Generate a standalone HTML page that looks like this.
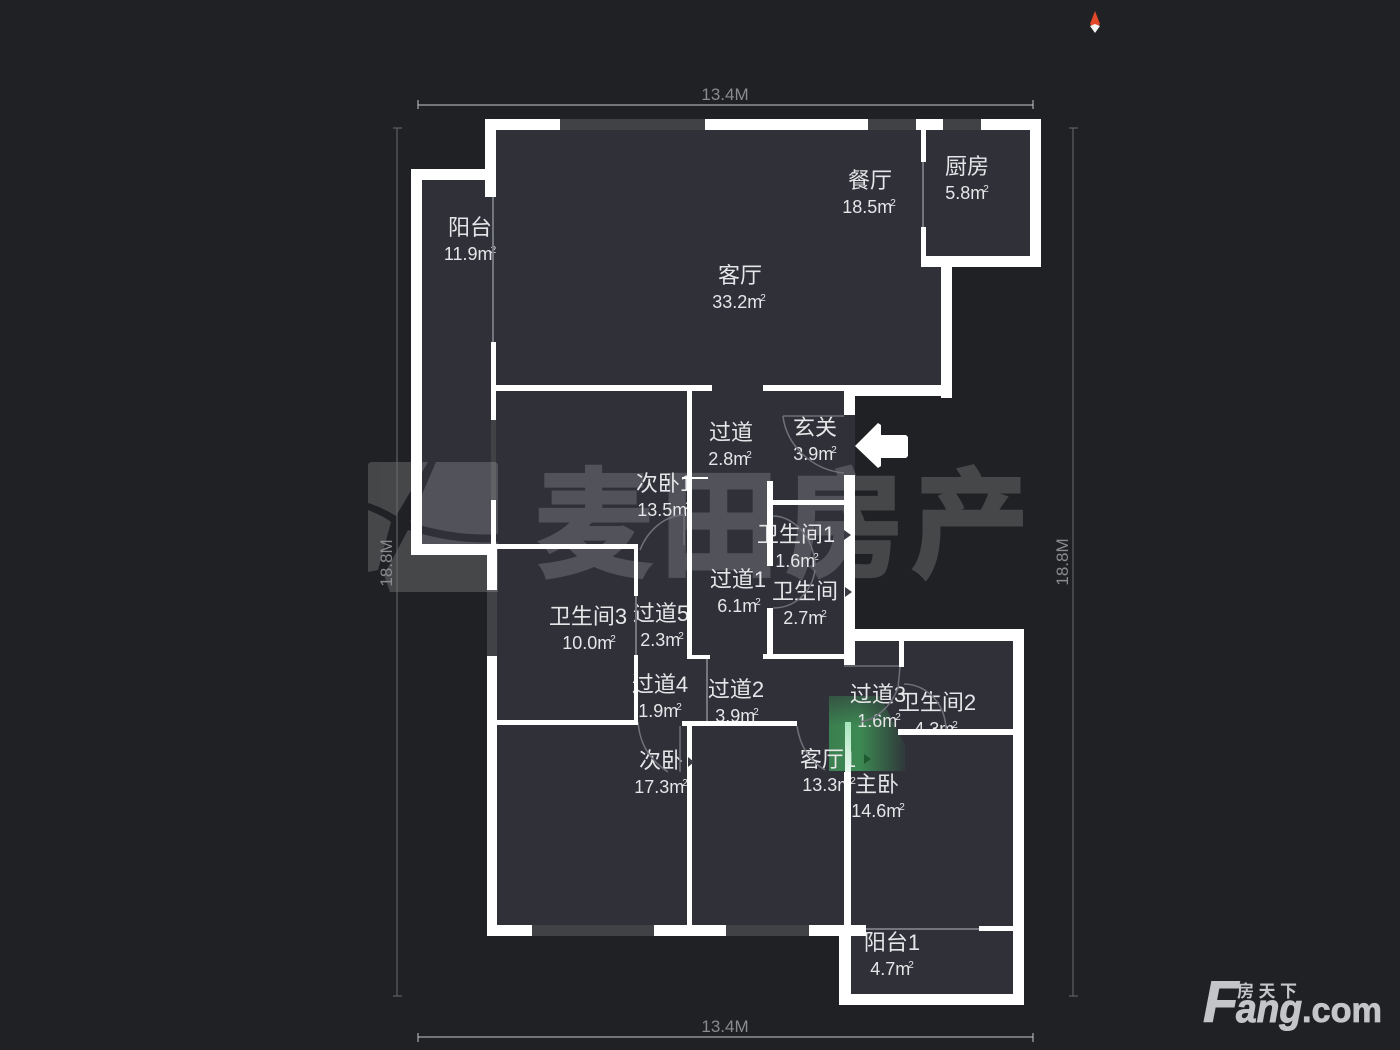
<!DOCTYPE html>
<html lang="zh-CN">
<head>
<meta charset="utf-8">
<title>户型图</title>
<style>
html,body{margin:0;padding:0;background:#1f2124;width:1400px;height:1050px;overflow:hidden}
svg{display:block}
text{font-family:"Liberation Sans","Noto Sans CJK SC",sans-serif}
.n{font-size:22px;fill:#e6e6e8;text-anchor:middle}
.a{font-size:18px;fill:#e6e6e8;text-anchor:middle}
.s{font-size:10px}
.d{font-size:17px;fill:#8a8b8e;text-anchor:middle}
.w{fill:#fff}
.win{fill:#414246}
.door{fill:none;stroke:#6f7178;stroke-width:1.5}
.dl{fill:none;stroke:#74767d;stroke-width:2}
</style>
</head>
<body>
<svg width="1400" height="1050" viewBox="0 0 1400 1050" xmlns="http://www.w3.org/2000/svg">
<defs>
<linearGradient id="g" x1="0" y1="0" x2="1" y2="0">
<stop offset="0" stop-color="#3f9a58" stop-opacity=".75"/>
<stop offset=".4" stop-color="#3f9a58" stop-opacity=".85"/>
<stop offset="1" stop-color="#3f9a58" stop-opacity=".08"/>
</linearGradient>
<linearGradient id="gv" x1="0" y1="0" x2="0" y2="1">
<stop offset="0" stop-color="#2f3038" stop-opacity=".55"/>
<stop offset=".4" stop-color="#2f3038" stop-opacity="0"/>
</linearGradient>
<linearGradient id="b" x1="0" y1="0" x2="0" y2="1">
<stop offset="0" stop-color="#a6e6bb"/><stop offset="1" stop-color="#e9f8ee"/>
</linearGradient>
</defs>
<rect width="1400" height="1050" fill="#1f2124"/>

<polygon fill="#2f3038" points="411,169 485,169 485,119 1041,119 1041,267 952,267 952,396 855,396 855,629 1024,629 1024,1005 839,1005 839,936 487,936 487,555 411,555"/>

<rect class="win" x="560" y="119" width="145" height="11"/>
<rect class="win" x="868" y="119" width="48" height="11"/>
<rect class="win" x="943" y="119" width="38" height="11"/>
<rect class="win" x="532" y="925" width="122" height="11"/>
<rect class="win" x="726" y="925" width="83" height="11"/>
<rect class="win" x="487" y="590" width="10" height="66"/>
<rect class="win" x="491" y="420" width="5" height="80"/>

<g fill="#fff" stroke="#fff" opacity=".17">
<path stroke="none" d="M372,462 H428 L396,516 C388,511 378,506 368,503 V466 Q368,462 372,462Z"/>
<path stroke="none" d="M436,462 H494 Q498,462 498,466 V534 C470,536 440,532 410,522Z"/>
<path stroke="none" d="M368,510 C378,514 386,518 391,522 L378,570 L368,572Z"/>
<path stroke="none" d="M408,530 C440,540 470,544 498,542 V592 H390 L384,575Z"/>
<text x="535" y="567" font-size="118" font-weight="700" stroke-width="3" textLength="494" lengthAdjust="spacing" style="font-family:'Noto Sans CJK SC',sans-serif">麦田房产</text>
</g>

<polygon points="829,696 880,696 905,745 905,771 829,771" fill="url(#g)"/>
<polygon points="829,696 880,696 905,745 905,771 829,771" fill="url(#gv)"/>

<text class="n" x="470" y="235">阳台</text><text class="a" x="470" y="260">11.9m<tspan class="s" dy="-7" dx="-2">2</tspan></text>
<text class="n" x="740" y="283">客厅</text><text class="a" x="739" y="308">33.2m<tspan class="s" dy="-7" dx="-2">2</tspan></text>
<text class="n" x="870" y="188">餐厅</text><text class="a" x="869" y="213">18.5m<tspan class="s" dy="-7" dx="-2">2</tspan></text>
<text class="n" x="967" y="174">厨房</text><text class="a" x="967" y="199">5.8m<tspan class="s" dy="-7" dx="-2">2</tspan></text>
<text class="n" x="731" y="440">过道</text><text class="a" x="730" y="465">2.8m<tspan class="s" dy="-7" dx="-2">2</tspan></text>
<text class="n" x="815" y="435">玄关</text><text class="a" x="815" y="460">3.9m<tspan class="s" dy="-7" dx="-2">2</tspan></text>
<text class="n" x="664" y="491">次卧1</text><text class="a" x="664" y="516">13.5m<tspan class="s" dy="-7" dx="-2">2</tspan></text>
<text class="n" x="796" y="542">卫生间1</text><text class="a" x="797" y="567">1.6m<tspan class="s" dy="-7" dx="-2">2</tspan></text>
<text class="n" x="738" y="587">过道1</text><text class="a" x="739" y="612">6.1m<tspan class="s" dy="-7" dx="-2">2</tspan></text>
<text class="n" x="805" y="599">卫生间</text><text class="a" x="805" y="624">2.7m<tspan class="s" dy="-7" dx="-2">2</tspan></text>
<text class="n" x="588" y="624">卫生间3</text><text class="a" x="589" y="649">10.0m<tspan class="s" dy="-7" dx="-2">2</tspan></text>
<text class="n" x="661" y="621">过道5</text><text class="a" x="662" y="646">2.3m<tspan class="s" dy="-7" dx="-2">2</tspan></text>
<text class="n" x="660" y="692">过道4</text><text class="a" x="660" y="717">1.9m<tspan class="s" dy="-7" dx="-2">2</tspan></text>
<text class="n" x="736" y="697">过道2</text><text class="a" x="737" y="722">3.9m<tspan class="s" dy="-7" dx="-2">2</tspan></text>
<text class="n" x="878" y="702">过道3</text><text class="a" x="879" y="727">1.6m<tspan class="s" dy="-7" dx="-2">2</tspan></text>
<text class="n" x="937" y="710">卫生间2</text><text class="a" x="936" y="735">4.3m<tspan class="s" dy="-7" dx="-2">2</tspan></text>
<text class="n" x="661" y="768">次卧</text><text class="a" x="661" y="793">17.3m<tspan class="s" dy="-7" dx="-2">2</tspan></text>
<text class="n" x="828" y="767">客厅1</text><text class="a" x="829" y="791">13.3m<tspan class="s" dy="-7" dx="-2">2</tspan></text>
<text class="n" x="877" y="792">主卧</text><text class="a" x="878" y="817">14.6m<tspan class="s" dy="-7" dx="-2">2</tspan></text>
<text class="n" x="892" y="950">阳台1</text><text class="a" x="892" y="975">4.7m<tspan class="s" dy="-7" dx="-2">2</tspan></text>

<path class="dl" d="M493,197 V342"/>
<path class="dl" d="M923,162 V227"/>
<path class="dl" d="M636,596 V655"/>
<path class="dl" d="M707,659 V721"/>
<path class="dl" d="M866,929 H979"/>
<path class="door" d="M783,416 H844 M783,416 C786,445 812,470 844,473"/>
<path class="door" d="M640,550 C648,530 665,515 685,515 M684,515 V545"/>
<path class="door" d="M773,516 C795,516 815,540 815,566 M773,608 C795,608 812,592 815,570"/>
<path class="door" d="M638,722 C640,745 650,760 668,772 M680,726 V772"/>
<path class="door" d="M797,726 C800,745 808,760 825,770"/>
<path class="door" d="M844,666 H900 M900,667 L898,688"/>
<path class="door" d="M860,722 C875,720 890,708 898,688 M904,684 C925,684 945,702 946,729"/>

<g class="w">
<rect x="485" y="119" width="75" height="11"/>
<rect x="705" y="119" width="163" height="11"/>
<rect x="916" y="119" width="27" height="11"/>
<rect x="981" y="119" width="60" height="11"/>
<rect x="1030" y="119" width="11" height="148"/>
<rect x="921" y="256" width="120" height="11"/>
<rect x="921" y="130" width="5" height="32"/>
<rect x="921" y="227" width="5" height="34"/>
<rect x="941" y="260" width="11" height="138"/>
<rect x="485" y="119" width="11" height="78"/>
<rect x="411" y="169" width="85" height="11"/>
<rect x="411" y="169" width="11" height="386"/>
<rect x="411" y="544" width="85" height="11"/>
<rect x="491" y="342" width="5" height="78"/>
<rect x="491" y="500" width="5" height="49"/>
<rect x="491" y="385" width="221" height="6"/>
<rect x="763" y="385" width="81" height="6"/>
<rect x="844" y="385" width="108" height="11"/>
<rect x="687" y="391" width="5" height="268"/>
<rect x="687" y="655" width="23" height="4"/>
<rect x="682" y="477" width="26" height="2"/>
<rect x="844" y="391" width="11" height="24"/>
<rect x="844" y="475" width="11" height="190"/>
<rect x="767" y="481" width="6" height="85"/>
<rect x="767" y="608" width="6" height="47"/>
<rect x="773" y="500" width="71" height="5"/>
<rect x="763" y="654" width="81" height="5"/>
<rect x="496" y="544" width="142" height="5"/>
<rect x="487" y="549" width="10" height="41"/>
<rect x="487" y="656" width="10" height="280"/>
<rect x="634" y="544" width="4" height="52"/>
<rect x="634" y="655" width="4" height="70"/>
<rect x="497" y="720" width="141" height="5"/>
<rect x="682" y="721" width="115" height="5"/>
<rect x="687" y="726" width="5" height="199"/>
<rect x="487" y="925" width="45" height="11"/>
<rect x="654" y="925" width="72" height="11"/>
<rect x="809" y="925" width="57" height="11"/>
<rect x="979" y="926" width="34" height="5"/>
<rect x="844" y="772" width="7" height="154"/>
<rect x="839" y="925" width="12" height="80"/>
<rect x="839" y="994" width="185" height="11"/>
<rect x="1013" y="629" width="11" height="376"/>
<rect x="855" y="629" width="169" height="12"/>
<rect x="899" y="641" width="5" height="26"/>
<rect x="898" y="729" width="115" height="6"/>
</g>
<rect x="845" y="722" width="6" height="50" fill="url(#b)"/>

<polygon points="844,530 851,535 844,540" fill="#3a3b42"/>
<polygon points="845,587 852,592 845,597" fill="#3a3b42"/>
<polygon points="688,757 694,762 688,767" fill="#3a3b42"/>
<polygon points="864,754 871,759 864,764" fill="#1e5a30"/>

<polygon class="w" points="855,446 878,423 881,425 881,435 906,435 908,437 908,456 906,458 881,458 881,466 878,468"/>

<path d="M418,105 H1033 M418,100 V109 M1033,100 V109 M418,1037 H1033 M418,1033 V1042 M1033,1033 V1042" stroke="#c6c7c9" stroke-width="1" fill="none"/>
<path d="M397,128 V996 M393,128 H402 M393,996 H402 M1073,128 V996 M1069,128 H1078 M1069,996 H1078" stroke="#6a6b6f" stroke-width="1" fill="none"/>
<text class="d" x="725" y="100">13.4M</text>
<text class="d" x="725" y="1032">13.4M</text>
<text class="d" transform="translate(392,563) rotate(-90)">18.8M</text>
<text class="d" transform="translate(1068,562) rotate(-90)">18.8M</text>

<polygon points="1095,11 1100,24 1095,29 1090,24" fill="#e2482a"/>
<polygon points="1095,33 1100,26 1095,24 1090,26" fill="#f5f5f5"/>

<g fill="#c4c5c8" stroke="#c4c5c8" style="font-family:'Liberation Sans',sans-serif" font-weight="700" font-style="italic">
<text x="1203" y="1022" font-size="58" stroke-width="1">F</text>
<text x="1236" y="1022" font-size="40" stroke-width="1" textLength="66" lengthAdjust="spacingAndGlyphs">ang</text>
<text x="1302" y="1022" font-size="35" stroke-width=".8" textLength="80" lengthAdjust="spacingAndGlyphs" font-style="normal">.com</text>
</g>
<text x="1237" y="997" font-size="17" font-weight="700" fill="#c4c5c8" textLength="60" style="font-family:'Noto Sans CJK SC',sans-serif">房天下</text>
</svg>
</body>
</html>
